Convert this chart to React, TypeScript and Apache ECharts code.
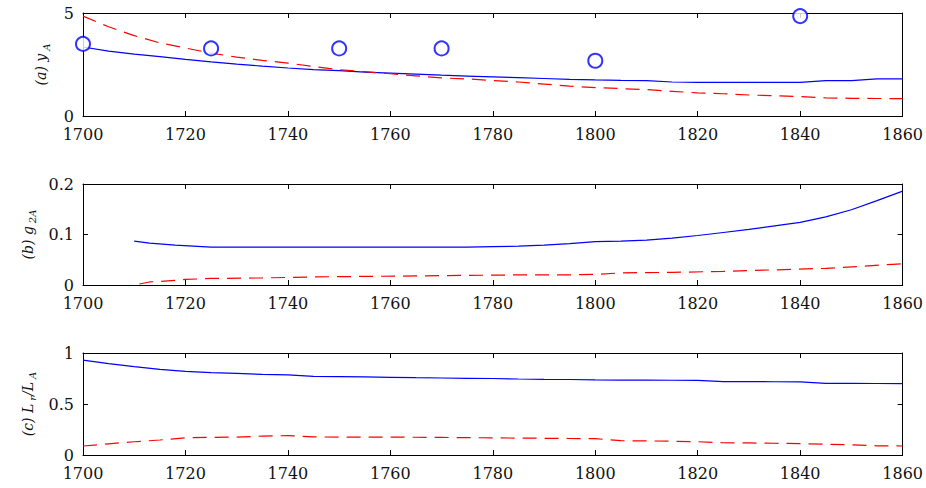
import React, { useEffect, useRef } from "react";
import * as echarts from "echarts";

// Panel (a): y_A
const yearsA = [1700,1705,1710,1715,1720,1725,1730,1735,1740,1745,1750,1755,1760,1765,1770,1775,1780,1785,1790,1795,1800,1805,1810,1815,1820,1825,1830,1835,1840,1845,1850,1855,1860];
const blueA = [3.35,3.15,3.0,2.88,2.75,2.63,2.52,2.42,2.33,2.25,2.2,2.13,2.08,2.03,1.98,1.94,1.9,1.86,1.82,1.78,1.75,1.73,1.72,1.65,1.63,1.63,1.63,1.63,1.63,1.72,1.72,1.8,1.8];
const redA = [4.85,4.33,3.9,3.55,3.3,3.05,2.86,2.7,2.57,2.4,2.25,2.15,2.05,1.95,1.85,1.8,1.72,1.65,1.55,1.45,1.38,1.33,1.28,1.2,1.12,1.08,1.02,0.98,0.94,0.88,0.86,0.85,0.84];
const obsYears = [1700,1725,1750,1770,1800,1840];
const obsA = [3.5,3.28,3.28,3.28,2.68,4.85];

// Panel (b): g_2A
const yearsBlueB = [1710,1713,1718,1725,1730,1735,1740,1745,1750,1755,1760,1765,1770,1775,1780,1785,1790,1795,1800,1805,1810,1815,1820,1825,1830,1835,1840,1845,1850,1855,1860];
const blueB = [0.087,0.083,0.079,0.075,0.075,0.075,0.075,0.075,0.075,0.075,0.075,0.075,0.075,0.075,0.076,0.077,0.079,0.082,0.086,0.087,0.089,0.093,0.098,0.104,0.11,0.117,0.124,0.135,0.149,0.167,0.186];
const yearsRedB = [1711,1713,1718,1720,1725,1735,1745,1755,1765,1775,1785,1795,1800,1805,1815,1825,1835,1845,1852,1858,1860];
const redB = [0.002,0.006,0.009,0.011,0.013,0.014,0.016,0.017,0.018,0.019,0.02,0.02,0.021,0.024,0.025,0.027,0.03,0.033,0.037,0.041,0.042];

// Panel (c): L_r/L_A
const yearsC = yearsA;
const blueC = [0.93,0.895,0.866,0.84,0.82,0.807,0.8,0.79,0.785,0.77,0.768,0.765,0.762,0.758,0.755,0.752,0.75,0.745,0.742,0.74,0.737,0.735,0.735,0.733,0.732,0.72,0.72,0.718,0.717,0.703,0.702,0.701,0.7];
const redC = [0.088,0.11,0.13,0.147,0.168,0.173,0.175,0.185,0.19,0.178,0.175,0.175,0.175,0.174,0.172,0.17,0.168,0.166,0.164,0.162,0.16,0.14,0.138,0.135,0.13,0.12,0.118,0.115,0.112,0.105,0.1,0.09,0.088];

const xTicksMin = 1700;
const xTicksMax = 1860;

const zip = (xs: number[], ys: number[]) => xs.map((x, i) => [x, ys[i]]);

const FONT = "DejaVu Serif";
const BLUE = "#0000ff";
const RED = "#ff0000";

export default function App() {
  const ref = useRef<HTMLDivElement>(null);
  useEffect(() => {
    if (!ref.current) return;
    const chart = echarts.init(ref.current, null, { renderer: "svg" });
    const panels = [
      { top: 13, height: 103, max: 5, interval: 5, name: "{i|(a) y}{s|A}" },
      { top: 184, height: 101, max: 0.2, interval: 0.1, name: "{i|(b) g}{s|2A}" },
      { top: 353, height: 102, max: 1, interval: 0.5, name: "{i|(c) L}{s|r}{i|/L}{s|A}" },
    ];
    const axisLine = { show: true, onZero: false, lineStyle: { color: "#000", width: 1 } };
    const tick = { show: true, inside: true, length: 5, lineStyle: { color: "#000" } };
    const grid: any[] = [];
    const xAxis: any[] = [];
    const yAxis: any[] = [];
    panels.forEach((p, i) => {
      grid.push({ left: 83, right: 23, top: p.top, height: p.height });
      xAxis.push({
        type: "value", gridIndex: i, min: xTicksMin, max: xTicksMax, interval: 20,
        position: "bottom", axisLine, axisTick: tick, splitLine: { show: false },
        axisLabel: {
          margin: 11, color: "#111", fontFamily: FONT, fontSize: 16, lineHeight: 14,
          formatter: (v: number) => String(v),
        },
      });
      xAxis.push({
        type: "value", gridIndex: i, min: xTicksMin, max: xTicksMax, interval: 20,
        position: "top", axisLine, axisTick: tick, splitLine: { show: false },
        axisLabel: { show: false },
      });
      yAxis.push({
        type: "value", gridIndex: i, min: 0, max: p.max, interval: p.interval,
        position: "left", axisLine, axisTick: tick, splitLine: { show: false },
        axisLabel: {
          margin: 9, color: "#111", fontFamily: FONT, fontSize: 16, lineHeight: 12,
          formatter: (v: number) => String(v),
        },
        name: p.name, nameLocation: "middle", nameGap: 32,
        nameTextStyle: {
          rich: {
            i: { fontFamily: FONT, fontStyle: "italic", fontSize: 14, color: "#111" },
            s: { fontFamily: FONT, fontStyle: "italic", fontSize: 10, color: "#111", padding: [10, 0, 0, 3] },
          },
        },
      });
      yAxis.push({
        type: "value", gridIndex: i, min: 0, max: p.max, interval: p.interval,
        position: "right", axisLine, axisTick: tick, splitLine: { show: false },
        axisLabel: { show: false },
      });
    });
    const line = (xi: number, data: number[][], color: string, dashed: boolean) => ({
      type: "line", xAxisIndex: xi * 2, yAxisIndex: xi * 2, data, symbol: "none",
      lineStyle: { color, width: 1.2, type: dashed ? [14, 8] : "solid" },
    });
    chart.setOption({
      animation: false,
      backgroundColor: "#fff",
      grid, xAxis, yAxis,
      series: [
        line(0, zip(yearsA, blueA), BLUE, false),
        line(0, zip(yearsA, redA), RED, true),
        {
          type: "scatter", xAxisIndex: 0, yAxisIndex: 0, data: zip(obsYears, obsA),
          symbol: "emptyCircle", symbolSize: 14, clip: false, z: 5,
          itemStyle: { color: BLUE, borderColor: BLUE, borderWidth: 1 },
        },
        line(1, zip(yearsBlueB, blueB), BLUE, false),
        line(1, zip(yearsRedB, redB), RED, true),
        line(2, zip(yearsC, blueC), BLUE, false),
        line(2, zip(yearsC, redC), RED, true),
      ],
    });
    return () => chart.dispose();
  }, []);
  return <div ref={ref} style={{ position: "absolute", left: 0, top: 0, width: 926, height: 488 }} />;
}
